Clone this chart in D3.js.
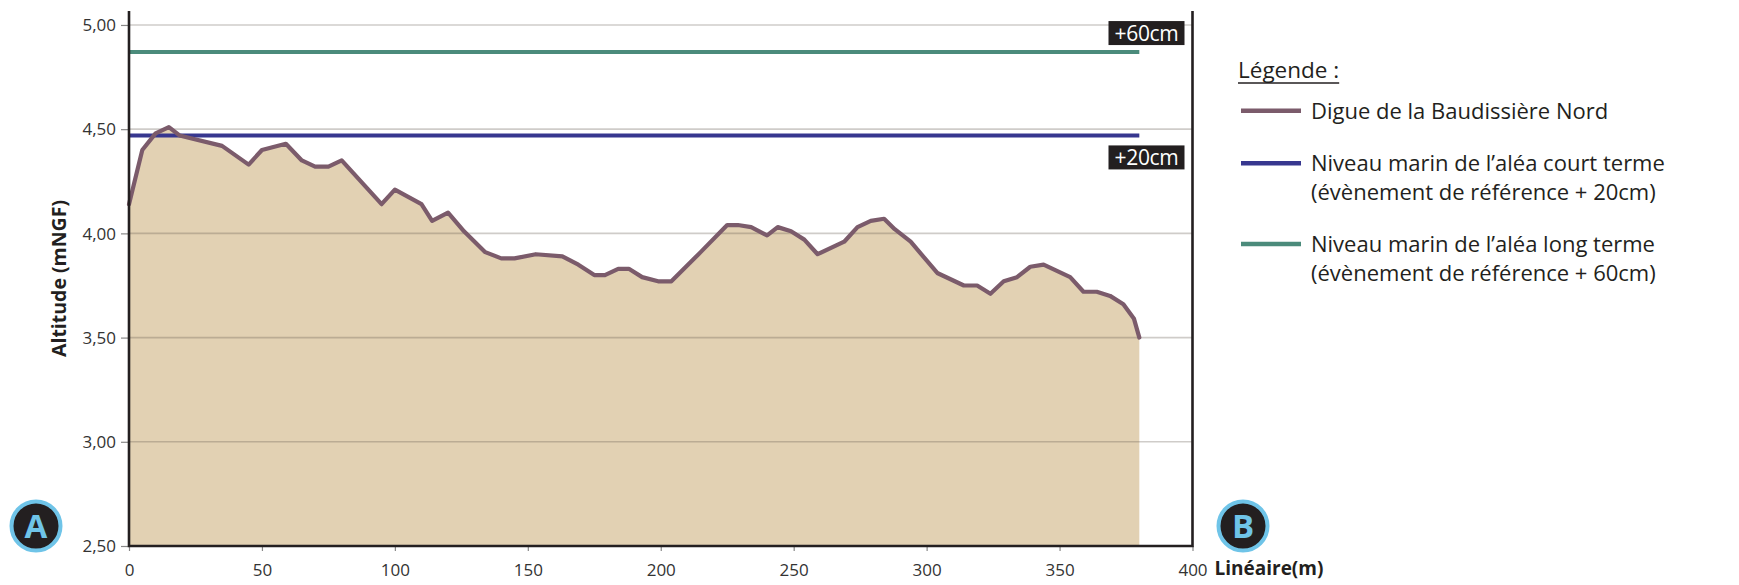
<!DOCTYPE html>
<html>
<head>
<meta charset="utf-8">
<script src="https://cdn.jsdelivr.net/npm/d3@7"></script>
<style>
  html, body { margin: 0; padding: 0; background: #ffffff; }
  svg { display: block; font-family: "Open Sans", "Noto Sans", sans-serif; }
</style>
</head>
<body>
<svg id="chart" width="1739" height="585"></svg>
<script>
// ---------- data ----------
const distances = [0, 5, 10, 15, 19, 35, 45, 50, 59, 65, 70, 75, 80, 95, 100, 110, 114, 120, 126, 134,
  140, 145, 153, 163, 169, 175, 179, 184, 188, 193, 199, 204, 215, 225, 229, 234, 240, 244, 249, 254,
  259, 269, 274, 279, 284, 288, 294, 304, 314, 319, 324, 329, 334, 339, 344, 354, 359, 364, 369, 374, 378, 380];
const altitudes = [4.14, 4.40, 4.48, 4.51, 4.47, 4.42, 4.33, 4.40, 4.43, 4.35, 4.32, 4.32, 4.35, 4.14, 4.21, 4.14, 4.06, 4.10, 4.01, 3.91,
  3.88, 3.88, 3.90, 3.89, 3.85, 3.80, 3.80, 3.83, 3.83, 3.79, 3.77, 3.77, 3.91, 4.04, 4.04, 4.03, 3.99, 4.03, 4.01, 3.97,
  3.90, 3.96, 4.03, 4.06, 4.07, 4.02, 3.96, 3.81, 3.75, 3.75, 3.71, 3.77, 3.79, 3.84, 3.85, 3.79, 3.72, 3.72, 3.70, 3.66, 3.59, 3.50];

const hazardLevels = [4.47, 4.87];
const hazardTags = ["+20cm", "+60cm"];
const hazardExtent = [0, 380];

const xTicks = [0, 50, 100, 150, 200, 250, 300, 350, 400];
const yTicks = [2.5, 3.0, 3.5, 4.0, 4.5, 5.0];
const yTickLabels = ["2,50", "3,00", "3,50", "4,00", "4,50", "5,00"];

const legendTitle = "Légende :";
const legendLines = [
  ["Digue de la Baudissière Nord"],
  ["Niveau marin de l’aléa court terme", "(évènement de référence + 20cm)"],
  ["Niveau marin de l’aléa long terme", "(évènement de référence + 60cm)"]
];
const xTitle = "Linéaire(m)";
const yTitle = "Altitude (mNGF)";
const endLabels = ["A", "B"];

// ---------- styles ----------
const C = {
  fill: "#e2d1b3",
  profile: "#7b5b6b",
  blue: "#37378f",
  green: "#4b8b7b",
  grid: "rgba(95,85,75,0.30)",
  axis: "#231f20",
  text: "#333333",
  ring: "#6fc4e8",
  dark: "#231f20"
};
const seriesColors = [C.profile, C.blue, C.green];

// ---------- layout ----------
const svg = d3.select("#chart");
const M = { left: 129, right: 1192.5, top: 11, bottom: 546 };

const x = d3.scaleLinear().domain([0, 400]).range([M.left, M.right]);
const y = d3.scaleLinear().domain([2.5, 5.067]).range([M.bottom, M.top]);

const pts = distances.map((d, i) => [d, altitudes[i]]);

// area
const area = d3.area().x(d => x(d[0])).y0(y(2.5)).y1(d => y(d[1]));
svg.append("path").datum(pts).attr("d", area).attr("fill", C.fill);

// grid lines (on top of area, semi-transparent)
svg.append("g").selectAll("line").data(yTicks.slice(1)).join("line")
  .attr("x1", x(0)).attr("x2", x(400))
  .attr("y1", d => y(d)).attr("y2", d => y(d))
  .attr("stroke", C.grid).attr("stroke-width", 1.6);

// hazard lines
const hazColors = [C.blue, C.green];
svg.append("g").selectAll("line").data(hazardLevels).join("line")
  .attr("x1", x(hazardExtent[0])).attr("x2", x(hazardExtent[1]))
  .attr("y1", d => y(d)).attr("y2", d => y(d))
  .attr("stroke", (d, i) => hazColors[i]).attr("stroke-width", 4);

// profile line
const line = d3.line().x(d => x(d[0])).y(d => y(d[1]));
svg.append("path").datum(pts).attr("d", line)
  .attr("fill", "none").attr("stroke", C.profile).attr("stroke-width", 4.2)
  .attr("stroke-linejoin", "round").attr("stroke-linecap", "round");

// hazard tag boxes
hazardLevels.forEach((lv, i) => {
  const w = 76, h = 24;
  const right = x(400) - 8;
  const top = i === 0 ? y(lv) + 10 : y(lv) - 7 - h;
  const g = svg.append("g");
  g.append("rect").attr("x", right - w).attr("y", top).attr("width", w).attr("height", h).attr("fill", C.dark);
  g.append("text").attr("x", right - w / 2).attr("y", top + h / 2 + 7.5)
    .attr("text-anchor", "middle").attr("fill", "#ffffff").attr("font-size", 21)
    .attr("letter-spacing", -0.3)
    .text(hazardTags[i]);
});

// axes
const yAxis = d3.axisLeft(y).tickValues(yTicks).tickSize(8).tickFormat((d, i) => yTickLabels[i]);
const gy = svg.append("g").attr("transform", `translate(${M.left},0)`).call(yAxis);
gy.select(".domain").remove();
gy.selectAll(".tick line").attr("stroke", "#888").attr("stroke-width", 1.2);
gy.selectAll(".tick text").attr("font-size", 17).attr("fill", C.text)
  .attr("font-family", "Open Sans").attr("x", -13).attr("dy", "0.34em");

const xAxis = d3.axisBottom(x).tickValues(xTicks).tickSize(5).tickFormat(d3.format("d"));
const gx = svg.append("g").attr("transform", `translate(0,${M.bottom})`).call(xAxis);
gx.select(".domain").remove();
gx.selectAll(".tick line").attr("stroke", "#888").attr("stroke-width", 1.2);
gx.selectAll(".tick text").attr("font-size", 17).attr("fill", C.text)
  .attr("font-family", "Open Sans").attr("y", 18).attr("dy", "0.71em");

// frame lines (left, bottom, right)
svg.append("path")
  .attr("d", `M${M.left},${M.top}V${M.bottom}H${M.right}V${M.top}`)
  .attr("fill", "none").attr("stroke", C.axis).attr("stroke-width", 2.6);

// axis titles
svg.append("text").attr("x", M.right + 22).attr("y", 575)
  .attr("font-size", 19).attr("font-weight", "bold").attr("fill", C.dark).text(xTitle);
svg.append("text").attr("transform", `translate(66,${(y(3.5) + y(4.0)) / 2 - 7}) rotate(-90)`)
  .attr("text-anchor", "middle").attr("font-size", 19.5).attr("font-weight", "bold")
  .attr("fill", C.dark).text(yTitle);

// end markers A/B
const markerX = [36, 1243];
endLabels.forEach((L, i) => {
  const g = svg.append("g").attr("transform", `translate(${markerX[i]},526)`);
  g.append("circle").attr("r", 24.5).attr("fill", C.dark).attr("stroke", C.ring).attr("stroke-width", 4);
  g.append("text").attr("text-anchor", "middle").attr("y", 12).attr("font-size", 33)
    .attr("font-weight", "bold").attr("fill", C.ring).text(L);
});

// legend
const lg = svg.append("g");
const title = lg.append("text").attr("x", 1238).attr("y", 78).attr("font-size", 22.5).attr("fill", C.dark).text(legendTitle);
const tw = title.node().getComputedTextLength();
lg.append("line").attr("x1", 1238).attr("x2", 1238 + tw).attr("y1", 83).attr("y2", 83)
  .attr("stroke", C.dark).attr("stroke-width", 1.3);
const rowSwatchY = [110.7, 163.3, 244];
legendLines.forEach((lines, i) => {
  lg.append("line").attr("x1", 1241).attr("x2", 1301).attr("y1", rowSwatchY[i]).attr("y2", rowSwatchY[i])
    .attr("stroke", seriesColors[i]).attr("stroke-width", 4.5);
  lines.forEach((s, j) => {
    lg.append("text").attr("x", 1311).attr("y", rowSwatchY[i] + 8 + j * 28.5)
      .attr("font-size", 22).attr("fill", C.dark).text(s);
  });
});
</script>
</body>
</html>
